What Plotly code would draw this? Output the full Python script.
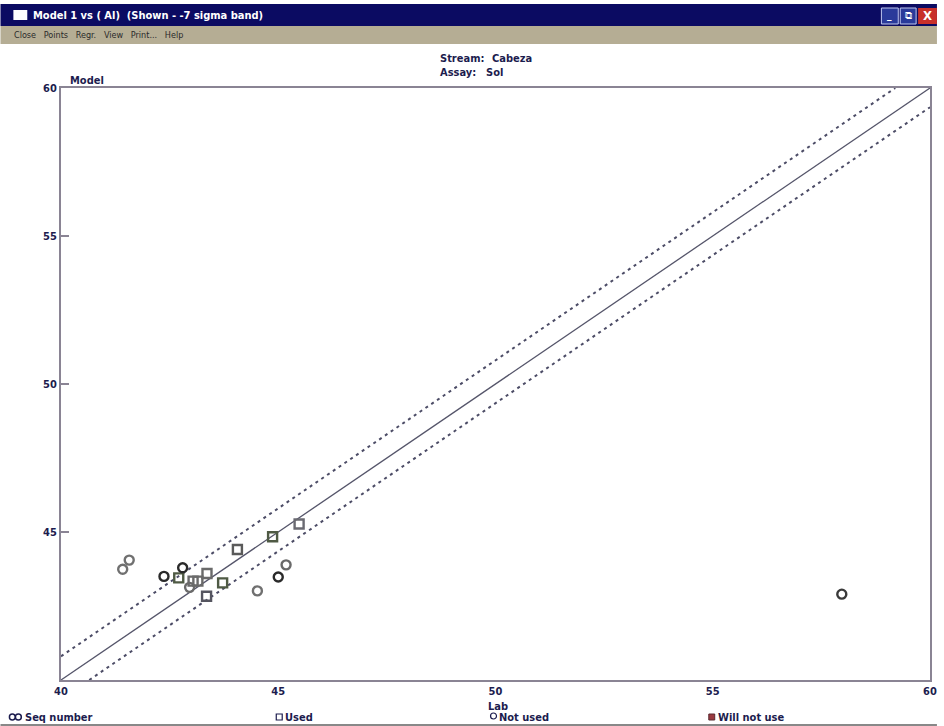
import plotly.graph_objects as go

# ---- data ----
used_lab = [42.71, 43.04, 43.15, 43.36, 43.35, 43.72, 44.06, 44.87, 45.48]
used_model = [43.45, 43.34, 43.34, 43.60, 42.83, 43.28, 44.41, 44.84, 45.27]
used_shade = ["#4f5a44", "#6a6a6a", "#6a6a6a", "#6a6a6a", "#555560", "#4f5a44", "#5a5a5a", "#4f5a44", "#6a6a72"]

notused_lab = [41.42, 41.57, 42.37, 42.80, 42.96, 44.52, 45.00, 45.18, 57.97]
notused_model = [43.74, 44.05, 43.50, 43.79, 43.13, 43.01, 43.48, 43.89, 42.90]
notused_shade = ["#707070", "#707070", "#2a2a2a", "#2a2a2a", "#6a6a6a", "#707070", "#2a2a2a", "#6a6a6a", "#3a3a3a"]

diag = [40, 60]
upper_offset = 0.8
lower_offset = -0.65

x_ticks = [40, 45, 50, 55, 60]
y_ticks = [45, 50, 55, 60]

title_text = "Model 1 vs ( Al)  (Shown - -7 sigma band)"
menu_text = "Close   Points   Regr.   View   Print...   Help"
legend_items = ["Seq number", "Used", "Not used", "Will not use"]

# ---- layout helpers (pixel -> paper) ----
L, R, T, B = 61, 937, 88, 680
W, H = 944, 726
def X(px):
    return (px - L) / (R - L)
def Y(py):
    return (B - py) / (B - T)

NAVY = "#1c1c4e"
FONT = "Liberation Sans Narrow, Arial Narrow, DejaVu Sans Condensed, sans-serif"

fig = go.Figure()

# regression / band lines
fig.add_trace(go.Scatter(x=diag, y=diag, mode="lines",
                         line=dict(color="#55556a", width=1.3), hoverinfo="skip"))
up_x = [diag[0], diag[1] - upper_offset]
fig.add_trace(go.Scatter(x=up_x, y=[v + upper_offset for v in up_x], mode="lines",
                         line=dict(color="#4c4c66", width=2, dash="3px,4px"), hoverinfo="skip"))
lo_x = [diag[0] - lower_offset, diag[1]]
fig.add_trace(go.Scatter(x=lo_x, y=[v + lower_offset for v in lo_x], mode="lines",
                         line=dict(color="#4c4c66", width=2, dash="3px,4px"), hoverinfo="skip"))

# points
fig.add_trace(go.Scatter(x=used_lab, y=used_model, mode="markers",
                         marker=dict(symbol="square-open", size=9,
                                     line=dict(width=2.4, color=used_shade), color=used_shade)))
fig.add_trace(go.Scatter(x=notused_lab, y=notused_model, mode="markers",
                         marker=dict(symbol="circle-open", size=9,
                                     line=dict(width=2.4, color=notused_shade), color=notused_shade)))

shapes = []
ann = []

def label(px, py, text, size=11, color=NAVY, xanchor="left", family=FONT, weight="bold"):
    ann.append(dict(xref="paper", yref="paper", x=X(px), y=Y(py), text=text, showarrow=False,
                    xanchor=xanchor, yanchor="middle",
                    font=dict(family=family, size=size, color=color, weight=weight)))

# window title bar
shapes.append(dict(type="rect", xref="paper", yref="paper", x0=X(0), x1=X(W), y0=Y(26), y1=Y(4),
                   fillcolor="#0b0b62", line=dict(width=0), layer="above"))
shapes.append(dict(type="rect", xref="paper", yref="paper", x0=X(13), x1=X(27), y0=Y(20), y1=Y(10),
                   fillcolor="white", line=dict(width=0), layer="above"))
label(31, 15, title_text, color="white")
# window buttons
shapes.append(dict(type="rect", xref="paper", yref="paper", x0=X(888), x1=X(905), y0=Y(24), y1=Y(8),
                   fillcolor="#2a3a9a", line=dict(width=1, color="#c0c8f0"), layer="above"))
shapes.append(dict(type="rect", xref="paper", yref="paper", x0=X(907), x1=X(923), y0=Y(24), y1=Y(8),
                   fillcolor="#2a3a9a", line=dict(width=1, color="#c0c8f0"), layer="above"))
shapes.append(dict(type="rect", xref="paper", yref="paper", x0=X(925), x1=X(944), y0=Y(24), y1=Y(8),
                   fillcolor="#c8302a", line=dict(width=0), layer="above"))
label(896.5, 15, "_", size=10, color="white", xanchor="center")
label(915, 16, "⧉", size=10, color="white", xanchor="center", family="DejaVu Sans", weight="normal")
label(934.5, 16, "X", size=13, color="white", xanchor="center")

# menu bar
shapes.append(dict(type="rect", xref="paper", yref="paper", x0=X(0), x1=X(W), y0=Y(44), y1=Y(26),
                   fillcolor="#b5ad94", line=dict(width=0), layer="above"))
label(12, 35, menu_text, size=9, color="#2a2a2a", weight="normal")

# header text
label(441, 58, "Stream:")
label(493, 58, "Cabeza")
label(441, 72, "Assay:")
label(487, 72, "Sol")

# axis titles
label(68, 81, "Model")
label(502, 706, "Lab", xanchor="center")

# legend row
leg_y = 717
for cx in (12, 18):
    shapes.append(dict(type="circle", xref="paper", yref="paper", x0=X(cx - 3), x1=X(cx + 3),
                       y0=Y(leg_y + 3), y1=Y(leg_y - 3), line=dict(color=NAVY, width=1.5)))
label(23, leg_y, legend_items[0])
shapes.append(dict(type="rect", xref="paper", yref="paper", x0=X(278), x1=X(284),
                   y0=Y(leg_y + 3), y1=Y(leg_y - 3), line=dict(color=NAVY, width=1.2)))
label(285, leg_y, legend_items[1])
shapes.append(dict(type="circle", xref="paper", yref="paper", x0=X(494), x1=X(500),
                   y0=Y(leg_y + 2), y1=Y(leg_y - 4), line=dict(color=NAVY, width=1.2)))
label(501, leg_y, legend_items[2])
shapes.append(dict(type="rect", xref="paper", yref="paper", x0=X(714), x1=X(720),
                   y0=Y(leg_y + 3), y1=Y(leg_y - 3), fillcolor="#9a3a40", line=dict(color="#5a2a30", width=1)))
label(721, leg_y, legend_items[3])
shapes.append(dict(type="line", xref="paper", yref="paper", x0=X(0), x1=X(W), y0=Y(725), y1=Y(725),
                   line=dict(color="#888888", width=2)))

fig.update_layout(
    width=W, height=H,
    margin=dict(l=L, r=W - R, t=T, b=H - B, pad=0),
    paper_bgcolor="white", plot_bgcolor="white",
    showlegend=False,
    shapes=shapes, annotations=ann,
    font=dict(family=FONT, color=NAVY),
    xaxis=dict(range=[40, 60], tickvals=x_ticks, ticktext=[str(v) for v in x_ticks],
               showgrid=False, zeroline=False, showline=True, mirror=True,
               linecolor="#8a8494", linewidth=2, ticks="", ticklen=0,
               tickfont=dict(family=FONT, size=11, color=NAVY, weight="bold")),
    yaxis=dict(range=[40, 60], tickvals=y_ticks, ticktext=[str(v) for v in y_ticks],
               showgrid=False, zeroline=False, showline=True, mirror=True,
               linecolor="#8a8494", linewidth=2, ticks="inside", ticklen=8, tickwidth=1.5,
               tickcolor="#8a8494",
               tickfont=dict(family=FONT, size=11, color=NAVY, weight="bold")),
)

fig.write_html("out.html", config={"displayModeBar": False},
               post_script="document.body.style.margin='0';document.body.style.overflow='hidden';")
